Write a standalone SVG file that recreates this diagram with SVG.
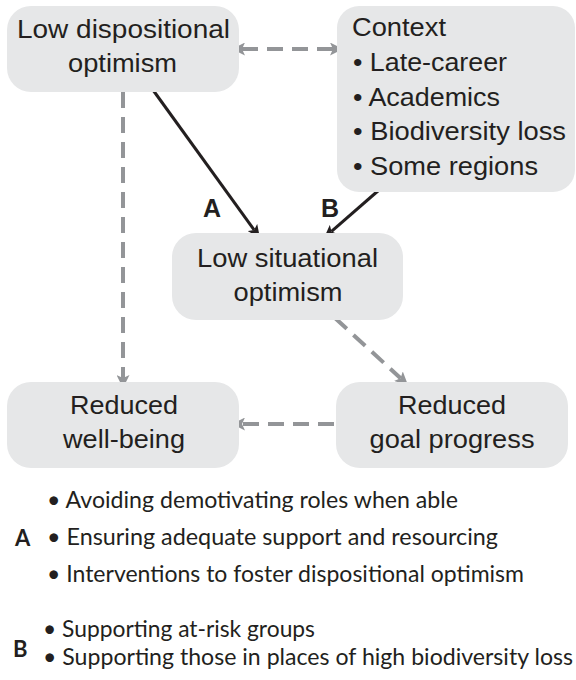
<svg xmlns="http://www.w3.org/2000/svg" width="576" height="680" viewBox="0 0 576 680">
<defs>
<style>
.box{fill:#e6e7e8;}
.t{font-family:"Liberation Sans",Arial,sans-serif;font-size:25px;fill:#231f20;}
.c{text-anchor:middle;}
.lbl{font-family:"Liberation Sans",Arial,sans-serif;font-size:25px;font-weight:bold;fill:#231f20;text-anchor:middle;}
.b{font-family:Lato,"Open Sans",sans-serif;font-size:23px;fill:#231f20;}
.bl{font-family:Lato,"Open Sans",sans-serif;font-size:22px;font-weight:bold;fill:#231f20;}
.dash{fill:none;stroke:#939598;stroke-width:4;stroke-dasharray:16 9;}
.solid{fill:none;stroke:#231f20;stroke-width:3;}
</style>
<marker id="gh" markerUnits="userSpaceOnUse" markerWidth="13" markerHeight="13" viewBox="0 0 13 13" refX="3" refY="6.5" orient="auto-start-reverse">
<path d="M0,0 L13,6.5 L0,13 L3,6.5 z" fill="#939598"/>
</marker>
<marker id="bh" markerUnits="userSpaceOnUse" markerWidth="13" markerHeight="12" viewBox="0 0 13 12" refX="3" refY="6" orient="auto">
<path d="M0,0 L13,6 L0,12 L3,6 z" fill="#231f20"/>
</marker>
</defs>
<rect width="576" height="680" fill="#ffffff"/>

<g id="connectors">
<line class="dash" x1="242" y1="49" x2="333" y2="49" marker-start="url(#gh)" marker-end="url(#gh)"/>
<line class="dash" x1="123" y1="92" x2="123" y2="378" marker-end="url(#gh)"/>
<line class="dash" x1="335" y1="318" x2="400.6" y2="378.2" marker-end="url(#gh)"/>
<line class="dash" x1="334" y1="424" x2="242" y2="424" marker-end="url(#gh)"/>
<line class="solid" x1="153" y1="90" x2="254.1" y2="229.9" marker-end="url(#bh)"/>
<line class="solid" x1="379" y1="190" x2="331.5" y2="231.4" marker-end="url(#bh)"/>
<text class="lbl" x="212" y="217">A</text>
<text class="lbl" x="330" y="217">B</text>
</g>

<g id="low-dispositional">
<rect class="box" x="7" y="6" width="232" height="86" rx="24"/>
<text class="t c" x="123.5" y="38" textLength="213" lengthAdjust="spacingAndGlyphs">Low dispositional</text>
<text class="t c" x="122.5" y="72" textLength="109" lengthAdjust="spacingAndGlyphs">optimism</text>
</g>

<g id="context">
<rect class="box" x="337" y="6" width="238" height="186" rx="22"/>
<text class="t" x="352" y="35.5" textLength="94" lengthAdjust="spacingAndGlyphs">Context</text>
<text class="t" x="353" y="71" textLength="154" lengthAdjust="spacingAndGlyphs">• Late-career</text>
<text class="t" x="353" y="105.5" textLength="147" lengthAdjust="spacingAndGlyphs">• Academics</text>
<text class="t" x="353" y="140" textLength="213" lengthAdjust="spacingAndGlyphs">• Biodiversity loss</text>
<text class="t" x="353" y="175" textLength="185" lengthAdjust="spacingAndGlyphs">• Some regions</text>
</g>

<g id="low-situational">
<rect class="box" x="172" y="233" width="231" height="87" rx="24"/>
<text class="t c" x="287.5" y="267" textLength="181" lengthAdjust="spacingAndGlyphs">Low situational</text>
<text class="t c" x="288" y="301" textLength="109" lengthAdjust="spacingAndGlyphs">optimism</text>
</g>

<g id="reduced-wellbeing">
<rect class="box" x="7" y="382" width="232" height="86" rx="24"/>
<text class="t c" x="124" y="414" textLength="108" lengthAdjust="spacingAndGlyphs">Reduced</text>
<text class="t c" x="124" y="448" textLength="122" lengthAdjust="spacingAndGlyphs">well-being</text>
</g>

<g id="reduced-goal">
<rect class="box" x="336" y="382" width="232" height="86" rx="24"/>
<text class="t c" x="452" y="414" textLength="108" lengthAdjust="spacingAndGlyphs">Reduced</text>
<text class="t c" x="452" y="448" textLength="165" lengthAdjust="spacingAndGlyphs">goal progress</text>
</g>

<g id="interventions-a">
<text class="bl" x="15" y="546">A</text>
<text class="b" x="47" y="508" textLength="411" lengthAdjust="spacingAndGlyphs">• Avoiding demotivating roles when able</text>
<text class="b" x="47" y="545" textLength="451" lengthAdjust="spacingAndGlyphs">• Ensuring adequate support and resourcing</text>
<text class="b" x="47" y="582" textLength="477" lengthAdjust="spacingAndGlyphs">• Interventions to foster dispositional optimism</text>
</g>

<g id="interventions-b">
<text class="bl" x="13" y="657">B</text>
<text class="b" x="43" y="637" textLength="272" lengthAdjust="spacingAndGlyphs">• Supporting at-risk groups</text>
<text class="b" x="43" y="665" textLength="530" lengthAdjust="spacingAndGlyphs">• Supporting those in places of high biodiversity loss</text>
</g>
</svg>
